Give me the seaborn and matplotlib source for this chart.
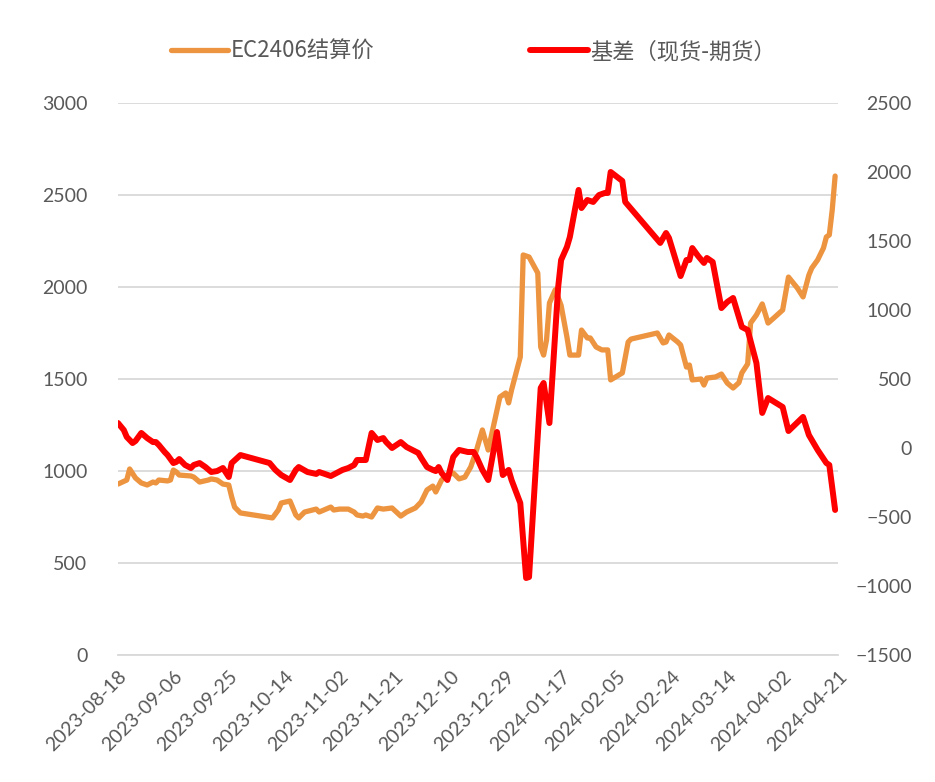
import pandas as pd
import numpy as np
import matplotlib
matplotlib.use("Agg")
import matplotlib.pyplot as plt
import matplotlib.dates as mdates
import seaborn as sns

# EC2406 结算价（左轴）
price_dates = [
    "2023-08-18", "2023-08-21", "2023-08-22", "2023-08-24", "2023-08-26", "2023-08-28",
    "2023-08-30", "2023-08-31", "2023-09-01", "2023-09-04", "2023-09-05", "2023-09-06",
    "2023-09-07", "2023-09-08", "2023-09-12", "2023-09-13", "2023-09-15", "2023-09-18",
    "2023-09-19", "2023-09-21", "2023-09-23", "2023-09-25", "2023-09-26", "2023-09-27",
    "2023-09-29", "2023-10-10", "2023-10-12", "2023-10-13", "2023-10-16", "2023-10-18",
    "2023-10-19", "2023-10-21", "2023-10-25", "2023-10-26", "2023-10-30", "2023-10-31",
    "2023-11-02", "2023-11-05", "2023-11-07", "2023-11-08", "2023-11-10", "2023-11-11",
    "2023-11-13", "2023-11-15", "2023-11-17", "2023-11-20", "2023-11-23", "2023-11-25",
    "2023-11-28", "2023-11-30", "2023-12-02", "2023-12-04", "2023-12-05", "2023-12-07",
    "2023-12-09", "2023-12-11", "2023-12-13", "2023-12-15", "2023-12-17", "2023-12-19",
    "2023-12-21", "2023-12-23", "2023-12-27", "2023-12-29", "2023-12-30", "2023-12-31",
    "2024-01-03", "2024-01-04", "2024-01-06", "2024-01-09", "2024-01-10", "2024-01-11",
    "2024-01-12", "2024-01-13", "2024-01-15", "2024-01-17", "2024-01-19", "2024-01-20",
    "2024-01-23", "2024-01-24", "2024-01-26", "2024-01-27", "2024-01-29", "2024-01-31",
    "2024-02-02", "2024-02-03", "2024-02-07", "2024-02-09", "2024-02-10", "2024-02-19",
    "2024-02-21", "2024-02-22", "2024-02-23", "2024-02-26", "2024-02-27", "2024-02-29",
    "2024-03-01", "2024-03-02", "2024-03-05", "2024-03-06", "2024-03-07", "2024-03-10",
    "2024-03-12", "2024-03-14", "2024-03-16", "2024-03-18", "2024-03-19", "2024-03-21",
    "2024-03-22", "2024-03-24", "2024-03-26", "2024-03-28", "2024-03-30", "2024-04-02",
    "2024-04-04", "2024-04-07", "2024-04-09", "2024-04-11", "2024-04-12", "2024-04-14",
    "2024-04-16", "2024-04-17", "2024-04-18", "2024-04-19", "2024-04-20",
]
price_vals = [
    929, 951, 1011, 962, 935, 924,
    940, 935, 951, 946, 951, 1005,
    995, 978, 973, 967, 940, 951,
    957, 951, 929, 924, 859, 804,
    772, 745, 788, 826, 837, 761,
    745, 777, 793, 777, 804, 788,
    793, 793, 777, 761, 755, 761,
    750, 799, 793, 799, 755, 777,
    799, 832, 897, 918, 886, 951,
    978, 989, 957, 967, 1022, 1114,
    1223, 1114, 1402, 1424, 1370, 1440,
    1620, 2174, 2163, 2076, 1674, 1630,
    1712, 1913, 1985, 1900, 1728, 1630,
    1630, 1766, 1723, 1723, 1674, 1658,
    1658, 1495, 1533, 1701, 1717, 1750,
    1696, 1701, 1739, 1701, 1685, 1565,
    1576, 1495, 1500, 1467, 1505, 1511,
    1527, 1478, 1451, 1480, 1533, 1582,
    1804, 1848, 1908, 1804, 1832, 1875,
    2054, 1995, 1946, 2065, 2103, 2147,
    2212, 2272, 2283, 2418, 2603,
]

# 基差（现货-期货，右轴）
basis_dates = [
    "2023-08-18", "2023-08-20", "2023-08-21", "2023-08-23", "2023-08-24", "2023-08-26",
    "2023-08-28", "2023-08-30", "2023-08-31", "2023-09-01", "2023-09-03", "2023-09-04",
    "2023-09-06", "2023-09-07", "2023-09-08", "2023-09-10", "2023-09-12", "2023-09-13",
    "2023-09-15", "2023-09-17", "2023-09-19", "2023-09-21", "2023-09-23", "2023-09-25",
    "2023-09-26", "2023-09-29", "2023-10-09", "2023-10-11", "2023-10-13", "2023-10-16",
    "2023-10-18", "2023-10-19", "2023-10-22", "2023-10-25", "2023-10-26", "2023-10-30",
    "2023-11-01", "2023-11-03", "2023-11-05", "2023-11-07", "2023-11-08", "2023-11-10",
    "2023-11-11", "2023-11-13", "2023-11-15", "2023-11-17", "2023-11-18", "2023-11-20",
    "2023-11-23", "2023-11-25", "2023-11-29", "2023-11-30", "2023-12-02", "2023-12-04",
    "2023-12-05", "2023-12-06", "2023-12-07", "2023-12-09", "2023-12-11", "2023-12-13",
    "2023-12-16", "2023-12-18", "2023-12-19", "2023-12-21", "2023-12-23", "2023-12-26",
    "2023-12-28", "2023-12-30", "2023-12-31", "2024-01-03", "2024-01-05", "2024-01-06",
    "2024-01-10", "2024-01-11", "2024-01-13", "2024-01-16", "2024-01-17", "2024-01-19",
    "2024-01-20", "2024-01-23", "2024-01-24", "2024-01-26", "2024-01-28", "2024-01-30",
    "2024-02-01", "2024-02-02", "2024-02-03", "2024-02-07", "2024-02-08", "2024-02-20",
    "2024-02-22", "2024-02-23", "2024-02-27", "2024-02-29", "2024-03-01", "2024-03-02",
    "2024-03-04", "2024-03-06", "2024-03-07", "2024-03-09", "2024-03-12", "2024-03-14",
    "2024-03-16", "2024-03-19", "2024-03-21", "2024-03-24", "2024-03-26", "2024-03-28",
    "2024-04-02", "2024-04-04", "2024-04-09", "2024-04-11", "2024-04-14", "2024-04-17",
    "2024-04-18", "2024-04-20",
]
basis_vals = [
    181, 130, 80, 36, 51, 109,
    72, 43, 43, 22, -29, -51,
    -109, -101, -80, -123, -145, -123,
    -109, -138, -174, -167, -145, -210,
    -109, -51, -109, -159, -196, -232,
    -159, -138, -174, -188, -174, -203,
    -181, -159, -145, -123, -87, -87,
    -87, 109, 58, 72, 43, 0,
    43, 7, -36, -72, -138, -159,
    -167, -138, -181, -232, -65, -14,
    -29, -29, -65, -159, -232, 116,
    -196, -159, -232, -399, -942, -935,
    435, 471, 181, 1167, 1362, 1457,
    1529, 1870, 1739, 1797, 1783, 1833,
    1848, 1848, 2000, 1935, 1783, 1486,
    1558, 1522, 1246, 1362, 1362, 1449,
    1391, 1341, 1377, 1348, 1014, 1058,
    1087, 877, 855, 616, 254, 362,
    297, 123, 225, 94, -14, -109,
    -123, -449,
]

price_label = "EC2406结算价"
basis_label = "基差（现货-期货）"

df_price = pd.DataFrame({"date": pd.to_datetime(price_dates), "value": price_vals})
df_basis = pd.DataFrame({"date": pd.to_datetime(basis_dates), "value": basis_vals})

sns.set_theme(style="white")
plt.rcParams["font.family"] = ["Lato", "Noto Sans CJK SC", "DejaVu Sans"]

text_color = "#595959"
grid_color = "#D9D9D9"

fig = plt.figure(figsize=(9.35, 7.82), dpi=100)
ax = fig.add_axes([0.1262, 0.1624, 0.7701, 0.7059])
ax2 = ax.twinx()

sns.lineplot(data=df_price, x="date", y="value", ax=ax, color="#ED9440",
             linewidth=3.8, solid_joinstyle="round", solid_capstyle="round",
             label=price_label, legend=False)
sns.lineplot(data=df_basis, x="date", y="value", ax=ax2, color="#FF0000",
             linewidth=4.3, solid_joinstyle="round", solid_capstyle="round",
             label=basis_label, legend=False)

# 坐标轴范围
start, end = pd.Timestamp("2023-08-18"), pd.Timestamp("2024-04-21")
ax.set_xlim(start, end)
ax.set_ylim(0, 3000)
ax2.set_ylim(-1500, 2500)
ax.set_yticks(np.arange(0, 3001, 500))
ax2.set_yticks(np.arange(-1500, 2501, 500))

ticks = pd.date_range(start, end, freq="19D")
ax.set_xticks(ticks)
ax.xaxis.set_major_formatter(mdates.DateFormatter("%Y-%m-%d"))

ax.set_xlabel("")
ax.set_ylabel("")
ax2.set_ylabel("")

ax.grid(axis="y", color=grid_color, linewidth=1.3)
ax.grid(axis="x", visible=False)
ax.set_axisbelow(True)

for a in (ax, ax2):
    for s in a.spines.values():
        s.set_visible(False)
ax.spines["bottom"].set_visible(True)
ax.spines["bottom"].set_color(grid_color)
ax.spines["bottom"].set_linewidth(1.3)

ax.tick_params(axis="x", colors=text_color, labelsize=14, length=5,
               width=1.1, color=grid_color, direction="out", pad=4)
ax.tick_params(axis="y", colors=text_color, labelsize=14, length=0, pad=22)
ax2.tick_params(axis="y", colors=text_color, labelsize=14, length=0, pad=53)
for lab in ax.get_xticklabels():
    lab.set_rotation(45)
    lab.set_ha("right")
    lab.set_rotation_mode("anchor")
for lab in ax2.get_yticklabels():
    lab.set_ha("right")

h1, l1 = ax.get_legend_handles_labels()
h2, l2 = ax2.get_legend_handles_labels()
leg = fig.legend(h1 + h2, l1 + l2, loc="center", bbox_to_anchor=(0.506, 0.934),
                 ncol=2, frameon=False, handlelength=2.6, handletextpad=0.1,
                 columnspacing=7.0,
                 prop={"family": ["Noto Sans CJK SC", "DejaVu Sans"], "size": 16})
for t in leg.get_texts():
    t.set_color(text_color)

fig.savefig("out.png", dpi=100)
